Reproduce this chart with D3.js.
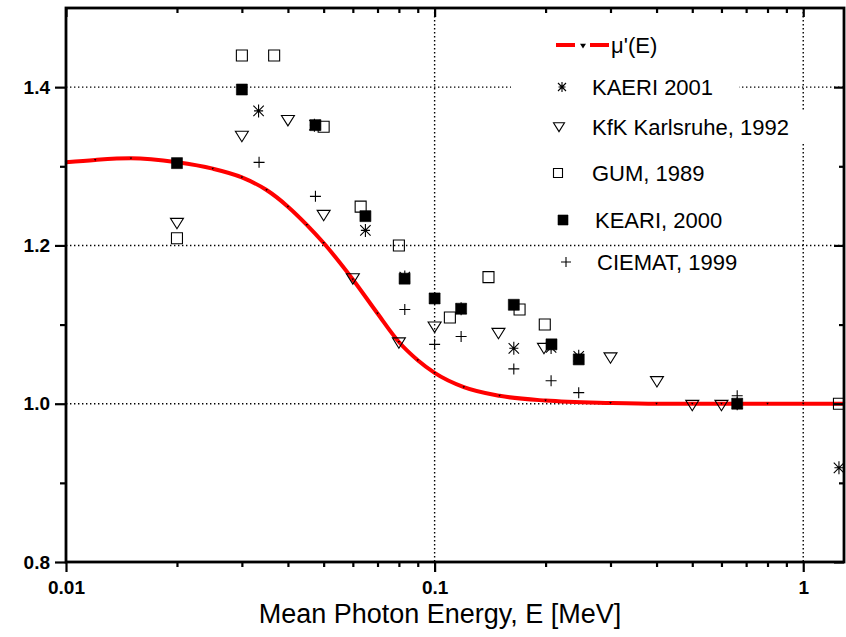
<!DOCTYPE html>
<html>
<head>
<meta charset="utf-8">
<script src="https://cdn.jsdelivr.net/npm/d3@7"></script>
<style>
body { margin:0; background:#fff; }
svg { display:block; font-family:"Liberation Sans", Arial, sans-serif; }
</style>
</head>
<body>
<svg id="chart"></svg>
<script>
// response curve mu'(E)
var curveE = [0.01, 0.012, 0.015, 0.02, 0.025, 0.03, 0.035, 0.04, 0.045, 0.05, 0.06, 0.07, 0.08, 0.09, 0.1, 0.12, 0.15, 0.2, 0.3, 0.4, 0.5, 0.6, 0.8, 1.0, 1.29]
var curveV = [1.305, 1.308, 1.310, 1.305, 1.297, 1.286, 1.27, 1.249, 1.226, 1.203, 1.157, 1.114, 1.078, 1.055, 1.039, 1.021, 1.010, 1.004, 1.001, 1.0, 1.0, 1.0, 1.0, 1.0, 1.0]

var kaeri2001E = [0.0333, 0.0472, 0.0649, 0.083, 0.1, 0.118, 0.164, 0.207, 0.246, 0.662, 1.25]
var kaeri2001V = [1.37, 1.352, 1.219, 1.16, 1.133, 1.12, 1.07, 1.071, 1.06, 1.0, 0.919]

var kfkE = [0.02, 0.03, 0.04, 0.05, 0.06, 0.08, 0.1, 0.149, 0.198, 0.3, 0.401, 0.5, 0.6]
var kfkV = [1.228, 1.338, 1.358, 1.238, 1.158, 1.077, 1.097, 1.089, 1.07, 1.058, 1.028, 0.998, 0.998]

var gumE = [0.02, 0.03, 0.0367, 0.05, 0.063, 0.08, 0.11, 0.14, 0.17, 0.199, 1.25]
var gumV = [1.209, 1.44, 1.44, 1.35, 1.249, 1.2, 1.109, 1.16, 1.119, 1.1, 1.0]

var keari2000E = [0.02, 0.03, 0.0475, 0.0649, 0.0829, 0.1, 0.118, 0.164, 0.2075, 0.246, 0.662]
var keari2000V = [1.304, 1.397, 1.352, 1.237, 1.158, 1.133, 1.12, 1.125, 1.075, 1.056, 1.0]

var ciematE = [0.0334, 0.0475, 0.083, 0.1, 0.118, 0.164, 0.207, 0.246, 0.662]
var ciematV = [1.305, 1.262, 1.119, 1.075, 1.085, 1.044, 1.029, 1.014, 1.01]

var legendNames = ["\u03bc'(E)", "KAERI 2001", "KfK Karlsruhe, 1992", "GUM, 1989", "KEARI, 2000", "CIEMAT, 1999"]
var legendSymbols = ["line", "asterisk", "triangle", "square", "filled", "plus"]

var xMajor = [0.01, 0.1, 1]
var xMinor = [0.02, 0.03, 0.04, 0.05, 0.06, 0.07, 0.08, 0.09, 0.2, 0.3, 0.4, 0.5, 0.6, 0.7, 0.8, 0.9]
var yMajor = [0.8, 1.0, 1.2, 1.4]
var yMinor = [0.9, 1.1, 1.3]
var xTitle = "Mean Photon Energy, E [MeV]"

var pairs = function(es, vs)
{
    return es.map(function(e, i) { return {E:e, V:vs[i]} })
}

// marker shapes, s = full size in px
var symbolPath = function(type, s)
{
    var h = s/2
    if (type == "square" || type == "filled")
        return "M"+(-h)+","+(-h)+"H"+h+"V"+h+"H"+(-h)+"Z"
    if (type == "triangle")
        return "M"+(-h)+","+(-s*0.38)+"H"+h+"L0,"+(s*0.42)+"Z"
    if (type == "plus")
        return "M"+(-h)+",0H"+h+"M0,"+(-h)+"V"+h
    if (type == "asterisk")
    {
        var d = h*0.8
        return "M0,"+(-h)+"V"+h+"M"+(-d)+","+(-d)+"L"+d+","+d+
               "M"+(-d)+","+d+"L"+d+","+(-d)+"M"+(-h*0.7)+",0H"+(h*0.7)
    }
    return ""
}

var drawPoints = function(target, data, type, size, xScale, yScale)
{
    target.append("g")
        .selectAll("path")
        .data(data)
        .enter()
        .append("path")
        .attr("d", symbolPath(type, size))
        .attr("transform", function(p) { return "translate("+xScale(p.E)+","+yScale(p.V)+")" })
        .attr("fill", type == "filled" ? "black" : "none")
        .attr("stroke", "black")
        .attr("stroke-width", type == "filled" ? 0.6 : 1.1)
}

var drawAxes = function(svg, plot, xScale, yScale)
{
    var styleAxis = function(g)
    {
        g.select(".domain").remove()
        g.selectAll("line").attr("stroke", "black").attr("stroke-width", 2.2)
        g.selectAll("text")
            .attr("font-size", "19px")
            .attr("font-weight", "bold")
            .attr("fill", "black")
            .attr("font-family", "'Liberation Sans', Arial, sans-serif")
    }

    // bottom, ticks outward
    svg.append("g").attr("transform", "translate(0,"+plot.bottom+")")
        .call(d3.axisBottom(xScale).tickValues(xMajor).tickSize(10).tickPadding(9)
              .tickFormat(d3.format("~g")))
        .call(styleAxis)
    svg.append("g").attr("transform", "translate(0,"+plot.bottom+")")
        .call(d3.axisBottom(xScale).tickValues(xMinor).tickSize(5).tickFormat(""))
        .call(styleAxis)
    // top, ticks inward
    svg.append("g").attr("transform", "translate(0,"+plot.top+")")
        .call(d3.axisBottom(xScale).tickValues(xMajor).tickSize(9).tickFormat(""))
        .call(styleAxis)
    svg.append("g").attr("transform", "translate(0,"+plot.top+")")
        .call(d3.axisBottom(xScale).tickValues(xMinor).tickSize(5).tickFormat(""))
        .call(styleAxis)

    // left, ticks outward
    svg.append("g").attr("transform", "translate("+plot.left+",0)")
        .call(d3.axisLeft(yScale).tickValues(yMajor).tickSize(11).tickPadding(5)
              .tickFormat(d3.format(".1f")))
        .call(styleAxis)
    svg.append("g").attr("transform", "translate("+plot.left+",0)")
        .call(d3.axisLeft(yScale).tickValues(yMinor).tickSize(6).tickFormat(""))
        .call(styleAxis)
    // right, ticks inward
    svg.append("g").attr("transform", "translate("+plot.right+",0)")
        .call(d3.axisLeft(yScale).tickValues(yMajor).tickSize(10).tickFormat(""))
        .call(styleAxis)
    svg.append("g").attr("transform", "translate("+plot.right+",0)")
        .call(d3.axisLeft(yScale).tickValues(yMinor).tickSize(5).tickFormat(""))
        .call(styleAxis)

    svg.append("text")
        .text(xTitle)
        .attr("x", 440)
        .attr("y", 623)
        .attr("text-anchor", "middle")
        .attr("font-size", "27px")
        .attr("fill", "black")
}

var drawGrid = function(svg, plot, xScale, yScale)
{
    var grid = svg.append("g").classed("grid", true)
    grid.selectAll("line.h")
        .data([1.0, 1.2, 1.4])
        .enter()
        .append("line")
        .attr("x1", plot.left).attr("x2", plot.right)
        .attr("y1", function(v) { return yScale(v) })
        .attr("y2", function(v) { return yScale(v) })
    grid.selectAll("line.v")
        .data([0.1, 1])
        .enter()
        .append("line")
        .attr("y1", plot.top).attr("y2", plot.bottom)
        .attr("x1", function(e) { return xScale(e) })
        .attr("x2", function(e) { return xScale(e) })
    grid.selectAll("line")
        .attr("stroke", "black")
        .attr("stroke-width", 1.4)
        .attr("stroke-dasharray", "1.4,2.6")
}

var drawLegend = function(svg)
{
    // symbol x, symbol y, text x for each entry
    var layout = [[583, 45, 611], [562, 87, 592], [559, 127, 592],
                  [558, 173, 592], [563, 220, 595], [566, 262, 597]]

    var legend = svg.append("g").attr("id", "legend")

    var entries = legend.selectAll("g")
        .data(legendNames)
        .enter()
        .append("g")

    var box = entries.append("rect").attr("fill", "white")

    entries.append("text")
        .text(function(name) { return name })
        .attr("x", function(name, i) { return layout[i][2] })
        .attr("y", function(name, i) { return layout[i][1] + 8 })
        .attr("font-size", "22px")
        .attr("fill", "black")

    box.each(function(name, i)
    {
        var w = d3.select(this.parentNode).select("text").node().getComputedTextLength()
        d3.select(this)
            .attr("x", 511)
            .attr("y", layout[i][1] - 15)
            .attr("width", layout[i][2] + w + 26 - 511)
            .attr("height", 30)
    })

    entries.each(function(name, i)
    {
        var g = d3.select(this)
        var sx = layout[i][0], sy = layout[i][1]
        var type = legendSymbols[i]
        if (type == "line")
        {
            g.append("line").attr("x1", sx-27).attr("x2", sx-8).attr("y1", sy).attr("y2", sy)
                .attr("stroke", "#ff0000").attr("stroke-width", 4)
            g.append("line").attr("x1", sx+7).attr("x2", sx+26).attr("y1", sy).attr("y2", sy)
                .attr("stroke", "#ff0000").attr("stroke-width", 4)
            g.append("path").attr("d", symbolPath("triangle", 6))
                .attr("transform", "translate("+sx+","+(sy+1)+")")
                .attr("fill", "black")
        }
        else
        {
            var size = type == "triangle" ? 11 : (type == "square" ? 9 : 10)
            g.append("path").attr("d", symbolPath(type, size))
                .attr("transform", "translate("+sx+","+sy+")")
                .attr("fill", type == "filled" ? "black" : "none")
                .attr("stroke", "black")
                .attr("stroke-width", type == "filled" ? 0.6 : 1.1)
        }
    })
}

var initGraph = function()
{
    var screen = {width:846, height:637}
    var plot = {left:66, right:844, top:8, bottom:562}

    var svg = d3.select("#chart")
        .attr("width", screen.width)
        .attr("height", screen.height)

    var xScale = d3.scaleLog()
        .domain([0.01, 1.29])
        .range([plot.left, plot.right])

    var yScale = d3.scaleLinear()
        .domain([0.8, 1.5])
        .range([plot.bottom, plot.top])

    drawGrid(svg, plot, xScale, yScale)

    var curveData = pairs(curveE, curveV)
    var line = d3.line()
        .x(function(p) { return xScale(p.E) })
        .y(function(p) { return yScale(p.V) })
        .curve(d3.curveMonotoneX)

    svg.append("path")
        .datum(curveData)
        .attr("d", line)
        .attr("fill", "none")
        .attr("stroke", "#ff0000")
        .attr("stroke-width", 4)

    // tiny markers sitting on the curve
    svg.append("g")
        .selectAll("path")
        .data(curveData)
        .enter()
        .append("path")
        .attr("d", symbolPath("triangle", 2.5))
        .attr("transform", function(p) { return "translate("+xScale(p.E)+","+yScale(p.V)+")" })
        .attr("fill", "black")

    var points = svg.append("g").attr("id", "points")
    drawPoints(points, pairs(gumE, gumV), "square", 11, xScale, yScale)
    drawPoints(points, pairs(kfkE, kfkV), "triangle", 13, xScale, yScale)
    drawPoints(points, pairs(kaeri2001E, kaeri2001V), "asterisk", 13, xScale, yScale)
    drawPoints(points, pairs(keari2000E, keari2000V), "filled", 11, xScale, yScale)
    drawPoints(points, pairs(ciematE, ciematV), "plus", 11, xScale, yScale)

    drawLegend(svg)

    svg.append("rect")
        .attr("x", plot.left).attr("y", plot.top)
        .attr("width", plot.right-plot.left).attr("height", plot.bottom-plot.top)
        .attr("fill", "none")
        .attr("stroke", "black")
        .attr("stroke-width", 2.8)

    drawAxes(svg, plot, xScale, yScale)
}

initGraph()
</script>
</body>
</html>
